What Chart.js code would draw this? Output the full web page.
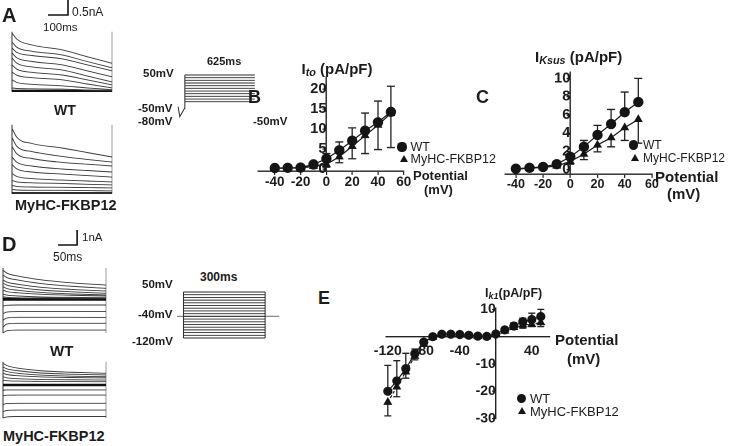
<!DOCTYPE html>
<html><head><meta charset="utf-8">
<script src="https://cdn.jsdelivr.net/npm/chart.js@4.4.1/dist/chart.umd.min.js"></script>
<style>
html,body{margin:0;padding:0;background:#fff;}
#root{position:relative;width:737px;height:446px;overflow:hidden;font-family:"Liberation Sans",Arial,sans-serif;color:#1c1c1c;}
canvas{position:absolute;}
.t{position:absolute;white-space:nowrap;line-height:1;}
.b{font-weight:bold;}
.dot{position:absolute;border-radius:50%;background:#151515;}
.tri{position:absolute;width:0;height:0;border-style:solid;border-color:transparent transparent #151515 transparent;}
sub{font-size:0.72em;vertical-align:-0.22em;line-height:0;}
</style></head><body><div id="root"></div>
<script>
// ---------- data: panel B (Ito) ----------
const potBC   = [-40,-30,-20,-10,0,10,20,30,40,50];
const itoWT   = [0.3,0.35,0.4,1.2,2.6,4.7,7.1,9.6,11.7,14.3];
const itoTG   = [0.2,0.25,0.3,0.7,1.2,3.1,5.7,8.4,11.0,13.9];
const itoWTup = [0.45,0.5,0.7,1.8,3.9,6.8,10.3,14.0,17.0,20.7];
const itoTGlo = [0.1,0.1,0.15,0.4,0.5,1.6,2.6,3.9,4.9,5.4];
const itoXTicks = [-40,-20,0,20,40,60];
const itoYTicks = [0,5,10,15,20];
// ---------- data: panel C (IKsus) ----------
const ksusWT   = [0.1,0.2,0.3,0.6,1.4,2.5,3.8,5.0,6.3,7.4];
const ksusTG   = [0.05,0.15,0.25,0.4,0.9,1.7,2.7,3.5,4.6,5.5];
const ksusWTup = [0.25,0.35,0.45,0.9,1.7,3.2,4.85,6.6,8.5,10.0];
const ksusTGlo = [-0.05,0.05,0.1,0.25,0.6,1.1,1.95,2.5,3.2,2.9];
const ksusXTicks = [-40,-20,0,20,40,60];
const ksusYTicks = [0,2,4,6,8,10];
// ---------- data: panel E (IK1) ----------
const potE    = [-120,-110,-100,-90,-80,-70,-60,-50,-40,-30,-20,-10,0,10,20,30,40,50];
const ik1WT   = [-20.0,-16.2,-11.7,-6.2,-2.0,0,0.9,0.9,0.8,0.5,0.2,0.1,1.0,2.5,3.9,5.5,6.3,7.4];
const ik1TG   = [-24.0,-18.4,-12.9,-7.2,-2.7,-0.2,0.7,0.8,0.7,0.4,0.1,0,0.8,2.0,3.4,4.3,4.5,5.2];
const ik1WTup = [-10.5,-8.8,-6.1,-4.5,-1.2,0.3,1.2,1.2,1.1,0.8,0.5,0.4,1.5,3.2,5.1,6.8,8.6,10.0];
const ik1TGlo = [-29.0,-22.0,-15.2,-8.5,-3.5,-0.6,0.4,0.5,0.4,0.1,-0.2,-0.3,0.4,1.5,2.8,3.1,3.7,3.7];
const ik1XTicks = [-120,-80,-40,40];
const ik1YTicks = [10,-10,-20,-30];
// ---------- data: panel A current traces (ms, nA) ----------
const tA = [0,25,100,250,375,500];
const aWT = [
  [1.93,1.72,1.53,1.37,1.14,0.92],[1.63,1.45,1.32,1.20,0.98,0.77],[1.43,1.28,1.18,1.07,0.87,0.67],
  [1.27,1.10,0.98,0.87,0.67,0.47],[1.10,0.92,0.80,0.70,0.50,0.30],[0.87,0.72,0.62,0.53,0.37,0.20],
  [0.63,0.52,0.44,0.37,0.23,0.10],[0.37,0.28,0.22,0.17,0.10,0.04],[0.10,0.08,0.07,0.06,0.03,0.01]];
const aTG = [
  [2.15,1.85,1.65,1.50,1.35,1.20],[1.85,1.55,1.38,1.22,1.12,1.03],[1.55,1.30,1.15,1.02,0.96,0.90],
  [1.20,1.02,0.90,0.80,0.75,0.70],[0.95,0.80,0.70,0.63,0.58,0.53],[0.65,0.55,0.48,0.43,0.40,0.37],
  [0.42,0.37,0.34,0.32,0.29,0.27],[0.25,0.22,0.20,0.19,0.18,0.17],[0.12,0.10,0.09,0.09,0.08,0.07]];
const aWTFrame = [-0.03,1.97];
const aTGFrame = [-0.03,2.27];
const scaleBarA = {ms:100, nA:0.5, t0:180, v0:2.53};
// ---------- data: panel D current traces (ms, nA) ----------
const tD = [0,10,40,100,180,271];
const dWT = [
  [1.95,1.75,1.55,1.30,1.10,0.95],[1.62,1.45,1.28,1.05,0.87,0.73],[1.29,1.15,1.00,0.80,0.66,0.55],
  [1.07,0.95,0.80,0.62,0.50,0.40],[0.84,0.72,0.60,0.46,0.36,0.29],[0.62,0.52,0.43,0.33,0.27,0.22],
  [0.35,0.28,0.22,0.16,0.13,0.11],[0.17,0.13,0.10,0.08,0.07,0.07],
  [-0.45,-0.40,-0.38,-0.38,-0.38,-0.38],[-0.95,-0.85,-0.82,-0.82,-0.82,-0.82],
  [-1.40,-1.25,-1.20,-1.20,-1.20,-1.21],[-1.85,-1.65,-1.60,-1.60,-1.60,-1.60],
  [-2.25,-2.10,-2.05,-2.05,-2.05,-2.05]];
const dTG = [
  [1.45,1.30,1.12,0.95,0.85,0.78],[1.20,1.08,0.95,0.80,0.72,0.67],[1.00,0.90,0.78,0.66,0.59,0.55],
  [0.78,0.70,0.62,0.54,0.50,0.47],[0.55,0.48,0.42,0.37,0.35,0.33],[0.33,0.29,0.26,0.24,0.23,0.22],
  [-0.35,-0.33,-0.33,-0.33,-0.33,-0.33],[-0.72,-0.68,-0.67,-0.67,-0.67,-0.67],
  [-1.30,-1.24,-1.22,-1.22,-1.22,-1.22],[-1.78,-1.70,-1.67,-1.67,-1.67,-1.67],
  [-2.20,-2.13,-2.10,-2.10,-2.10,-2.10]];
const dWTFrame = [-2.25,2.09];
const dTGFrame = [-2.2,1.55];
const scaleBarD = {ms:50, nA:1, t0:145, v0:3.62};
// ---------- data: voltage protocols (ms, mV) ----------
const stepsA = [50,40,30,20,10,0,-10,-20,-30,-40,-50];
const durA = 625;
const hookA_t = [-60,-45,-3,0,0];
const hookA_v = [-69,-106,-75,-55,50];
const stepsD = [50,40,30,20,10,0,-10,-20,-30,-40,-50,-60,-70,-80,-90,-100,-110,-120];
const durD = 300;
const holdD = {v:-40, t0:-24, t1:352};

const root = document.getElementById('root');
const FONT = '"Liberation Sans", Arial, sans-serif';

function txt(html, left, cy, fs, bold, extra){
  const d = document.createElement('div');
  d.className = 't' + (bold ? ' b' : '');
  d.style.left = left + 'px';
  d.style.top = (cy - 0.49*fs) + 'px';
  d.style.fontSize = fs + 'px';
  if (extra) Object.assign(d.style, extra);
  d.innerHTML = html;
  root.appendChild(d);
}
function dot(cx, cy, r){
  const d = document.createElement('div'); d.className='dot';
  Object.assign(d.style,{left:(cx-r)+'px',top:(cy-r)+'px',width:2*r+'px',height:2*r+'px'});
  root.appendChild(d);
}
function tri(cx, cy, h){
  const d = document.createElement('div'); d.className='tri';
  const w = h*0.6;
  Object.assign(d.style,{left:(cx-w)+'px',top:(cy-h*0.6)+'px',borderWidth:`0 ${w}px ${h}px ${w}px`});
  root.appendChild(d);
}

// geometry helper: place a canvas so that the data range maps onto the given pixel box
function makeChart(g, config){
  const c = document.createElement('canvas');
  const W = Math.round(g.px1 - g.px0 + g.pl + g.pr);
  const H = Math.round(g.py0 - g.py1 + g.pt + g.pb);
  const left = g.px0 - g.pl, top = g.py1 - g.pt;
  c.width = W; c.height = H;
  c.style.left = left + 'px'; c.style.top = top + 'px';
  c.style.width = W + 'px'; c.style.height = H + 'px';
  root.appendChild(c);
  config.options = config.options || {};
  config.options.responsive = false;
  config.options.animation = false;
  config.options.devicePixelRatio = 2;
  config.options.layout = {padding:{left:g.pl, top:g.pt, right:W - g.pl - (g.px1-g.px0), bottom:H - g.pt - (g.py0-g.py1)}};
  config.options.plugins = Object.assign({legend:{display:false}, tooltip:{enabled:false}}, config.options.plugins||{});
  return new Chart(c, config);
}

const errorBars = {
  id:'errorBars',
  beforeDatasetsDraw(chart){
    const ctx = chart.ctx, ys = chart.scales.y;
    chart.data.datasets.forEach((ds,i)=>{
      if(!ds.errEnds) return;
      const meta = chart.getDatasetMeta(i);
      ctx.save(); ctx.strokeStyle = '#222'; ctx.lineWidth = 1.3;
      meta.data.forEach((pt,j)=>{
        const y2 = ys.getPixelForValue(ds.errEnds[j]);
        if (Math.abs(y2-pt.y) < 1) return;
        ctx.beginPath();
        ctx.moveTo(pt.x, pt.y); ctx.lineTo(pt.x, y2);
        ctx.moveTo(pt.x - ds.capW, y2); ctx.lineTo(pt.x + ds.capW, y2);
        ctx.stroke();
      });
      ctx.restore();
    });
  }
};

function ivChart(g, xs, wt, tg, wtUp, tgLo, xTicks, yTicks, xr, yr, style){
  const pts = (ys)=> xs.map((x,i)=>({x, y:ys[i]}));
  const setTicks = (arr)=> (s)=>{ s.ticks = arr.map(v=>({value:v})); };
  const xPos = {y: style.xAt};
  return makeChart(g, {
    type:'scatter',
    data:{datasets:[
      {data:pts(tg), showLine:true, borderColor:'#1a1a1a', borderWidth:1.2, borderDash:style.tgDash||[],
       pointStyle:'triangle', pointRadius:style.triR, backgroundColor:'#151515', pointBorderColor:'#151515',
       errEnds:tgLo, capW:style.cap, clip:false},
      {data:pts(wt), showLine:true, borderColor:'#1a1a1a', borderWidth:1.2,
       pointStyle:'circle', pointRadius:style.dotR, backgroundColor:'#151515', pointBorderColor:'#151515',
       errEnds:wtUp, capW:style.cap, clip:false}
    ]},
    options:{
      scales:{
        x:{type:'linear', min:xr[0], max:xr[1], position:xPos,
           afterBuildTicks:setTicks(xTicks), afterFit:(s)=>{s.height=0;},
           grid:{display:true, drawOnChartArea:false, drawTicks:true, tickLength:style.xTickLen, color:'#222', lineWidth:1.2},
           border:{display:true, color:'#222', width:1.4},
           ticks:{padding:style.xPad, color:'#1c1c1c', maxRotation:0, autoSkip:false,
                  font:{family:FONT, size:style.xFont, weight:'bold'}}},
        y:{type:'linear', min:yr[0], max:yr[1], position:{x:0},
           afterBuildTicks:setTicks(yTicks), afterFit:(s)=>{s.width=0;},
           grid:{display:true, drawOnChartArea:false, drawTicks:true, tickLength:3, color:'#222', lineWidth:1.2},
           border:{display:true, color:'#222', width:1.4},
           ticks:{padding:style.yPad, color:'#1c1c1c', autoSkip:false,
                  font:{family:FONT, size:style.yFont, weight:'bold'}}}
      }
    },
    plugins:[errorBars]
  });
}

// ---- Panel B ----
ivChart({px0:258.1, px1:403.9, py0:171.3, py1:77.3, pl:30, pr:80, pt:12, pb:26},
  potBC, itoWT, itoTG, itoWTup, itoTGlo, itoXTicks, itoYTicks, [-53,60], [-0.45,23],
  {dotR:4.6, triR:4, cap:4, xFont:13.5, yFont:14.5, xTickLen:3, xPad:0, yPad:1, xAt:-0.45});
// ---- Panel C ----
ivChart({px0:504.7, px1:651.6, py0:174.1, py1:71.9, pl:28, pr:80, pt:12, pb:24},
  potBC, ksusWT, ksusTG, ksusWTup, ksusTGlo, ksusXTicks, ksusYTicks, [-48,60], [-0.5,10.7],
  {dotR:4.6, triR:4, cap:4, xFont:12.5, yFont:14.5, xTickLen:3, xPad:0, yPad:1, xAt:-0.5});
// ---- Panel E ----
ivChart({px0:386.2, px1:550, py0:418.6, py1:308, pl:26, pr:40, pt:10, pb:12},
  potE, ik1WT, ik1TG, ik1WTup, ik1TGlo, ik1XTicks, ik1YTicks, [-122,60], [-30,10.5],
  {dotR:4, triR:4, cap:3.5, xFont:14, yFont:14, xTickLen:0, xPad:6, yPad:1, xAt:0, tgDash:[3,2]});

// ---- traces ----
function traceChart(g, ts, traces, frame, tEnd, xr, yr, bar, baseW){
  const ds = [];
  traces.forEach(tr=>{
    ds.push({data:ts.map((t,i)=>({x:t,y:tr[i]})), showLine:true, borderColor:'#3a3a3a', borderWidth:0.9,
             pointRadius:0, cubicInterpolationMode:'monotone', clip:false});
  });
  ds.push({data:[{x:ts[0],y:0},{x:tEnd,y:0}], showLine:true, borderColor:'#111', borderWidth:baseW, pointRadius:0, clip:false});
  ds.push({data:[{x:ts[0],y:frame[0]},{x:ts[0],y:frame[1]}], showLine:true, borderColor:'#333', borderWidth:1, pointRadius:0, clip:false});
  ds.push({data:[{x:tEnd,y:frame[0]},{x:tEnd,y:frame[1]}], showLine:true, borderColor:'#9a9a9a', borderWidth:1, pointRadius:0, clip:false});
  if (bar) ds.push({data:[{x:bar.t0,y:bar.v0},{x:bar.t0+bar.ms,y:bar.v0},{x:bar.t0+bar.ms,y:bar.v0+bar.nA}],
             showLine:true, borderColor:'#111', borderWidth:1.6, pointRadius:0, clip:false});
  return makeChart(g, {type:'scatter', data:{datasets:ds},
    options:{scales:{x:{type:'linear',display:false,min:xr[0],max:xr[1]}, y:{type:'linear',display:false,min:yr[0],max:yr[1]}}}});
}
// A WT: t->12+0.2t ; v->91-30v
traceChart({px0:12, px1:112, py0:91, py1:0.1, pl:12, pr:6, pt:0, pb:5}, tA, aWT, aWTFrame, 500, [0,500], [0,3.03], scaleBarA, 2.2);
// A MyHC: v->193-30v
traceChart({px0:12, px1:112, py0:193, py1:124, pl:12, pr:6, pt:4, pb:5}, tA, aTG, aTGFrame, 500, [0,500], [0,2.3], null, 1.8);
// D WT: t->3+0.38t ; v->299.3-15v
traceChart({px0:3, px1:106, py0:299.3, py1:230, pl:3, pr:6, pt:2, pb:38}, tD, dWT, dWTFrame, 271, [0,271], [0,4.62], scaleBarD, 3);
// D MyHC: v->385-15v
traceChart({px0:3, px1:106, py0:385, py1:360, pl:3, pr:6, pt:2, pb:38}, tD, dTG, dTGFrame, 271, [0,271], [0,1.667], null, 2.6);

// ---- protocols ----
function protoChart(g, steps, dur, extra, xr, yr){
  const ds = steps.map(v=>({data:[{x:0,y:v},{x:dur,y:v}], showLine:true, borderColor:'#2a2a2a', borderWidth:0.9, pointRadius:0, clip:false}));
  extra.forEach(e=>ds.push(Object.assign({showLine:true, pointRadius:0, clip:false, borderWidth:1}, e)));
  return makeChart(g, {type:'scatter', data:{datasets:ds},
    options:{scales:{x:{type:'linear',display:false,min:xr[0],max:xr[1]}, y:{type:'linear',display:false,min:yr[0],max:yr[1]}}}});
}
// A: t->185+0.112t ; v-> 75 + (50-v)*0.267
protoChart({px0:185-70*0.112, px1:185+625*0.112, py0:75+160*0.267, py1:75, pl:3, pr:3, pt:3, pb:3},
  stepsA, durA,
  [{data:hookA_t.map((t,i)=>({x:t,y:hookA_v[i]})), borderColor:'#2a2a2a', borderWidth:1}],
  [-70,625], [-110,50]);
// D: t->183.3+0.272t ; v-> 292.3+(50-v)*0.2706
protoChart({px0:183.3-24*0.272, px1:183.3+352*0.272, py0:338.3, py1:292.3, pl:3, pr:3, pt:3, pb:3},
  stepsD, durD,
  [{data:[{x:0,y:stepsD[0]},{x:0,y:stepsD[stepsD.length-1]}], borderColor:'#2a2a2a'},
   {data:[{x:durD,y:stepsD[0]},{x:durD,y:stepsD[stepsD.length-1]}], borderColor:'#2a2a2a'},
   {data:[{x:holdD.t0,y:holdD.v},{x:holdD.t1,y:holdD.v}], borderColor:'#8a8a8a', borderWidth:1.2}],
  [-24,352], [-120,50]);

// ---- text ----
txt('A', 2, 15, 20, true);
txt('D', 2, 243.5, 20, true);
txt('B', 248, 97, 18, true);
txt('C', 476, 97, 18, true);
txt('E', 318, 298, 18, true);

txt('0.5nA', 72, 12, 12, false);
txt('100ms', 43, 28, 11.5, false);
txt('WT', 54, 110, 14, true);
txt('MyHC-FKBP12', 15, 205, 14.5, true);
txt('625ms', 207, 61, 11, true);
txt('50mV', 143, 74, 11.5, true);
txt('-50mV', 138, 109, 11.5, true);
txt('-80mV', 138, 122, 11.5, true);
txt('-50mV', 253, 122, 11.5, true);

txt('1nA', 82, 238, 11.5, false);
txt('50ms', 53, 257, 12, false);
txt('WT', 50, 350, 15, true);
txt('MyHC-FKBP12', 3, 436.5, 14.5, true);
txt('300ms', 200, 276.7, 12, true);
txt('50mV', 142, 285, 11.5, true);
txt('-40mV', 138, 314.3, 11.5, true);
txt('-120mV', 132, 341.7, 11.5, true);

// panel B labels
txt('I<sub><i>to</i></sub> (pA/pF)', 301.5, 68, 15, true);
dot(402, 147, 4.6); txt('WT', 410.5, 147, 12.5, false);
tri(404.5, 159.3, 7); txt('MyHC-FKBP12', 410.5, 159.3, 12.5, false);
txt('Potential', 413, 175, 13, true);
txt('(mV)', 424, 189, 13, true);
// panel C labels
txt('I<sub><i>Ksus</i></sub> (pA/pF)', 535, 56.7, 15, true);
dot(633.3, 145, 4.6); txt('WT', 643, 145, 12, false);
tri(635, 158.3, 7); txt('MyHC-FKBP12', 643, 158.3, 12, false);
txt('Potential', 655, 176.7, 15, true);
txt('(mV)', 667, 193.3, 15, true);
// panel E labels
txt('I<sub><i>k1</i></sub>(pA/pF)', 485, 293, 12.5, true);
dot(521.7, 398.3, 4.5); txt('WT', 530, 398.3, 13, false);
tri(522, 411.7, 7.5); txt('MyHC-FKBP12', 530, 411.7, 13, false);
txt('Potential', 555, 339, 15, true);
txt('(mV)', 567, 358, 15, true);
</script></body></html>
